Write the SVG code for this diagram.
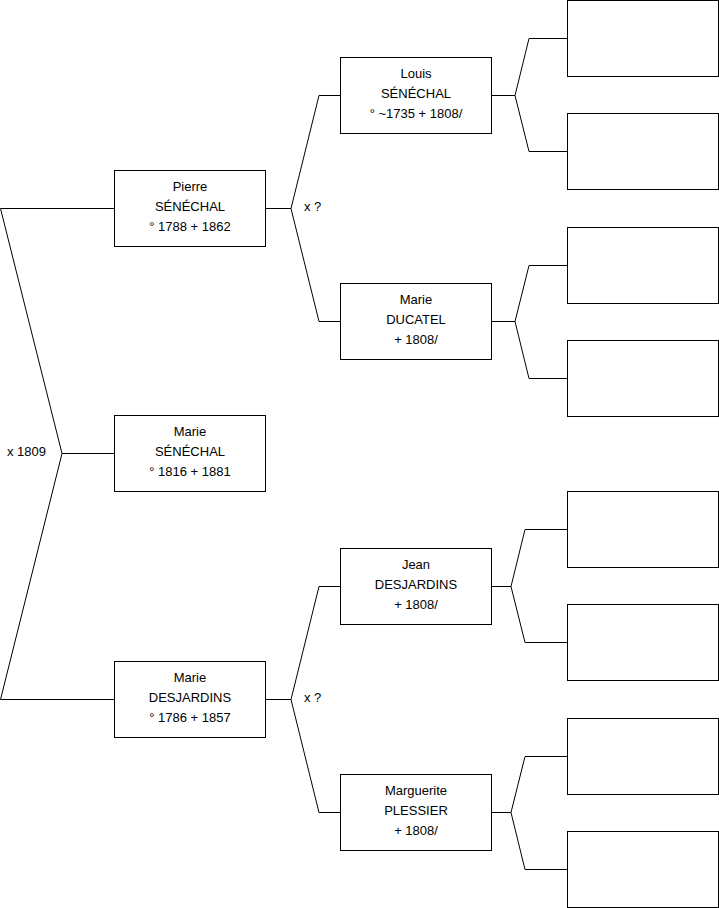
<svg xmlns="http://www.w3.org/2000/svg" width="719" height="908" viewBox="0 0 719 908">
<style>
.box{fill:#fff;stroke:#000;stroke-width:1}
.con{fill:none;stroke:#000;stroke-width:1}
text{font-family:"Liberation Sans",Arial,sans-serif;font-size:13px;fill:#000}
.c{text-anchor:middle}
</style>
<rect width="719" height="908" fill="#fff"/>
<g id="connectors">
<path class="con" d="M114.5,208.5 H0.5 L62,453.5 L0.5,699.5 H114.5 M62,453.5 H114.5"/>
<path class="con" d="M265.5,208.5 H291 L319,95.5 H340.5 M291,208.5 L319,321.5 H340.5"/>
<path class="con" d="M265.5,699.5 H291 L319,586.5 H340.5 M291,699.5 L319,812.5 H340.5"/>
<path class="con" d="M491.5,95.5 H515 L529,38.5 H567.5 M515,95.5 L529,151.5 H567.5"/>
<path class="con" d="M491.5,321.5 H515 L529,265.5 H567.5 M515,321.5 L529,378.5 H567.5"/>
<path class="con" d="M491.5,586.5 H511 L525,529.5 H567.5 M511,586.5 L525,642.5 H567.5"/>
<path class="con" d="M491.5,812.5 H511 L525,756.5 H567.5 M511,812.5 L525,869.5 H567.5"/>
<text x="7" y="456">x 1809</text>
<text x="304" y="211">x ?</text>
<text x="304" y="702">x ?</text>
</g>
<g id="pierre">
<rect class="box" x="114.5" y="170.5" width="151" height="76"/>
<text class="c" x="190" y="191">Pierre</text>
<text class="c" x="190" y="211">SÉNÉCHAL</text>
<text class="c" x="190" y="231">° 1788 + 1862</text>
</g>
<g id="marie-senechal">
<rect class="box" x="114.5" y="415.5" width="151" height="76"/>
<text class="c" x="190" y="436">Marie</text>
<text class="c" x="190" y="456">SÉNÉCHAL</text>
<text class="c" x="190" y="476">° 1816 + 1881</text>
</g>
<g id="marie-desjardins">
<rect class="box" x="114.5" y="661.5" width="151" height="76"/>
<text class="c" x="190" y="682">Marie</text>
<text class="c" x="190" y="702">DESJARDINS</text>
<text class="c" x="190" y="722">° 1786 + 1857</text>
</g>
<g id="louis">
<rect class="box" x="340.5" y="57.5" width="151" height="76"/>
<text class="c" x="416" y="78">Louis</text>
<text class="c" x="416" y="98">SÉNÉCHAL</text>
<text class="c" x="416" y="118">° ~1735 + 1808/</text>
</g>
<g id="marie-ducatel">
<rect class="box" x="340.5" y="283.5" width="151" height="76"/>
<text class="c" x="416" y="304">Marie</text>
<text class="c" x="416" y="324">DUCATEL</text>
<text class="c" x="416" y="344">+ 1808/</text>
</g>
<g id="jean">
<rect class="box" x="340.5" y="548.5" width="151" height="76"/>
<text class="c" x="416" y="569">Jean</text>
<text class="c" x="416" y="589">DESJARDINS</text>
<text class="c" x="416" y="609">+ 1808/</text>
</g>
<g id="marguerite">
<rect class="box" x="340.5" y="774.5" width="151" height="76"/>
<text class="c" x="416" y="795">Marguerite</text>
<text class="c" x="416" y="815">PLESSIER</text>
<text class="c" x="416" y="835">+ 1808/</text>
</g>
<g id="r1"><rect class="box" x="567.5" y="0.5" width="151" height="76"/></g>
<g id="r2"><rect class="box" x="567.5" y="113.5" width="151" height="76"/></g>
<g id="r3"><rect class="box" x="567.5" y="227.5" width="151" height="76"/></g>
<g id="r4"><rect class="box" x="567.5" y="340.5" width="151" height="76"/></g>
<g id="r5"><rect class="box" x="567.5" y="491.5" width="151" height="76"/></g>
<g id="r6"><rect class="box" x="567.5" y="604.5" width="151" height="76"/></g>
<g id="r7"><rect class="box" x="567.5" y="718.5" width="151" height="76"/></g>
<g id="r8"><rect class="box" x="567.5" y="831.5" width="151" height="76"/></g>
</svg>
